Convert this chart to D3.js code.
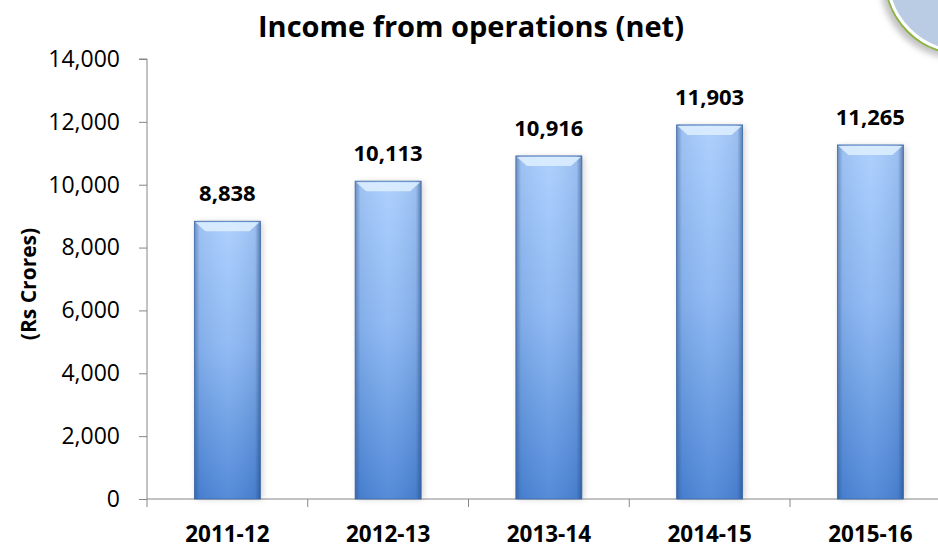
<!DOCTYPE html>
<html>
<head>
<meta charset="utf-8">
<script src="https://cdn.jsdelivr.net/npm/d3@7"></script>
<style>
  body { margin: 0; background: #fff; overflow: hidden; }
  svg text { font-family: "Open Sans", "Liberation Sans", sans-serif; }
</style>
</head>
<body>
<div id="container"></div>
<script>
const years = ["2011-12", "2012-13", "2013-14", "2014-15", "2015-16"];
const income = [8838, 10113, 10916, 11903, 11265];
const yTicks = [0, 2000, 4000, 6000, 8000, 10000, 12000, 14000];

const w = 938;
const h = 549;
const left = 147;
const topY = 59;
const bottomY = 499;
const band = 160.75;
const barWidth = 66;

const xScale = d3.scaleBand()
      .domain(years)
      .range([left, left + band * years.length]);

const yScale = d3.scaleLinear()
      .domain([0, 14000])
      .range([bottomY, topY]);

let svg = d3.select("#container")
    .append("svg")
    .attr("width", w)
    .attr("height", h);

let defs = svg.append("defs");

// vertical gradient of the bars
let vg = defs.append("linearGradient")
    .attr("id", "barV")
    .attr("x1", 0).attr("y1", 0).attr("x2", 0).attr("y2", 1);
vg.append("stop").attr("offset", "0%").attr("stop-color", "#a9cdfd");
vg.append("stop").attr("offset", "45%").attr("stop-color", "#8bb7f3");
vg.append("stop").attr("offset", "100%").attr("stop-color", "#4a84d6");

// side shading
let hg = defs.append("linearGradient")
    .attr("id", "barH")
    .attr("x1", 0).attr("y1", 0).attr("x2", 1).attr("y2", 0);
hg.append("stop").attr("offset", "0%").attr("stop-color", "#1f3f73").attr("stop-opacity", 0.45);
hg.append("stop").attr("offset", "8%").attr("stop-color", "#1f3f73").attr("stop-opacity", 0.08);
hg.append("stop").attr("offset", "50%").attr("stop-color", "#ffffff").attr("stop-opacity", 0.06);
hg.append("stop").attr("offset", "92%").attr("stop-color", "#1f3f73").attr("stop-opacity", 0.1);
hg.append("stop").attr("offset", "100%").attr("stop-color", "#1f3f73").attr("stop-opacity", 0.55);

let shadow = defs.append("filter")
    .attr("id", "shadow")
    .attr("x", "-30%").attr("y", "-30%").attr("width", "160%").attr("height", "160%");
shadow.append("feGaussianBlur").attr("stdDeviation", 3);

// decoration in the top right corner
svg.append("circle")
    .attr("cx", 958).attr("cy", -19).attr("r", 78)
    .attr("fill", "#9a9a9a")
    .attr("opacity", 0.6)
    .attr("filter", "url(#shadow)");
svg.append("circle")
    .attr("cx", 962).attr("cy", -23).attr("r", 77)
    .attr("fill", "#b9cce4")
    .attr("stroke", "#8db43e")
    .attr("stroke-width", 2);
svg.append("circle")
    .attr("cx", 962).attr("cy", -23).attr("r", 74.5)
    .attr("fill", "none")
    .attr("stroke", "#ffffff")
    .attr("stroke-width", 3);

// title
svg.append("text")
    .attr("x", 471)
    .attr("y", 37)
    .attr("text-anchor", "middle")
    .attr("font-size", 29)
    .attr("font-weight", "bold")
    .attr("fill", "#000")
    .text("Income from operations (net)");

// y axis
const yAxis = d3.axisLeft(yScale)
      .tickValues(yTicks)
      .tickSize(8)
      .tickPadding(19)
      .tickFormat(d3.format(","));

let gy = svg.append("g")
    .attr("transform", "translate(" + left + ",0)")
    .call(yAxis);
gy.select(".domain").attr("stroke", "#868686").attr("d", "M-8," + topY + "H0V" + bottomY);
gy.selectAll(".tick line").attr("stroke", "#868686");
gy.selectAll(".tick text")
    .attr("font-size", 23)
    .attr("fill", "#000");

svg.append("text")
    .attr("transform", "translate(36,284) rotate(-90)")
    .attr("text-anchor", "middle")
    .attr("font-size", 21)
    .attr("font-weight", "bold")
    .attr("fill", "#000")
    .text("(Rs Crores)");

// x axis
svg.append("line")
    .attr("x1", left).attr("x2", w)
    .attr("y1", bottomY).attr("y2", bottomY)
    .attr("stroke", "#868686");

svg.selectAll(".xtick")
    .data(years.slice(1))
    .enter()
    .append("line")
    .attr("class", "xtick")
    .attr("x1", (d) => xScale(d))
    .attr("x2", (d) => xScale(d))
    .attr("y1", bottomY)
    .attr("y2", bottomY + 8)
    .attr("stroke", "#868686");

svg.append("line")
    .attr("x1", left).attr("x2", left)
    .attr("y1", bottomY).attr("y2", bottomY + 8)
    .attr("stroke", "#868686");

svg.selectAll(".xlabel")
    .data(years)
    .enter()
    .append("text")
    .attr("class", "xlabel")
    .attr("x", (d) => xScale(d) + band / 2)
    .attr("y", 542)
    .attr("text-anchor", "middle")
    .attr("font-size", 22.5)
    .attr("font-weight", "bold")
    .attr("fill", "#000")
    .text((d) => d);

// bars
const data = years.map((y, i) => ({year: y, value: income[i]}));

let bars = svg.selectAll(".bar")
    .data(data)
    .enter()
    .append("g")
    .attr("class", "bar");

const bx = (d) => xScale(d.year) + band / 2 - barWidth / 2;

bars.append("rect")
    .attr("x", (d) => bx(d) + 2)
    .attr("y", (d) => yScale(d.value) + 1)
    .attr("width", barWidth)
    .attr("height", (d) => bottomY - yScale(d.value) - 1)
    .attr("fill", "#777")
    .attr("opacity", 0.35)
    .attr("filter", "url(#shadow)");

bars.append("rect")
    .attr("x", bx)
    .attr("y", (d) => yScale(d.value))
    .attr("width", barWidth)
    .attr("height", (d) => bottomY - yScale(d.value))
    .attr("fill", "url(#barV)");

bars.append("rect")
    .attr("x", bx)
    .attr("y", (d) => yScale(d.value))
    .attr("width", barWidth)
    .attr("height", (d) => bottomY - yScale(d.value))
    .attr("fill", "url(#barH)")
    .attr("stroke", "#3d6aa8")
    .attr("stroke-width", 0.8);

// bevel at the top of each bar
bars.append("path")
    .attr("d", (d) => {
        const x0 = bx(d), y0 = yScale(d.value);
        return "M" + (x0 + 1) + "," + (y0 + 1) + "H" + (x0 + barWidth - 1) +
               "L" + (x0 + barWidth - 11) + "," + (y0 + 10) + "H" + (x0 + 11) + "Z";
    })
    .attr("fill", "#dcedff")
    .attr("opacity", 0.9);

bars.append("text")
    .attr("x", (d) => xScale(d.year) + band / 2)
    .attr("y", (d) => yScale(d.value) - 20)
    .attr("text-anchor", "middle")
    .attr("font-size", 22)
    .attr("font-weight", "bold")
    .attr("fill", "#000")
    .text((d) => d3.format(",")(d.value));
</script>
</body>
</html>
